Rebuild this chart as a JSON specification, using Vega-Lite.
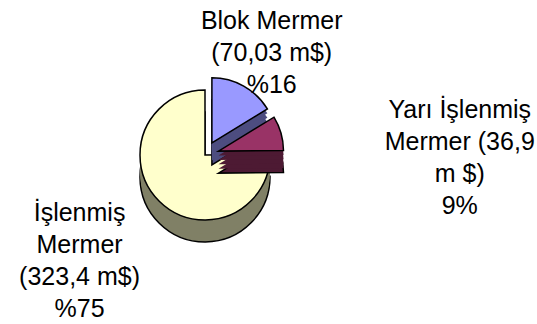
{
  "$schema": "https://vega.github.io/schema/vega-lite/v6.json",
  "width": 537,
  "height": 324,
  "autosize": {"type": "none"},
  "padding": 0,
  "background": "white",
  "config": {"view": {"stroke": null}},
  "data": {"values": [
    {"kategori": "Blok Mermer", "deger": 70.03, "etiket": "Blok Mermer\n(70,03 m$)\n%16"},
    {"kategori": "Yarı İşlenmiş Mermer", "deger": 36.9, "etiket": "Yarı İşlenmiş\nMermer (36,9\nm $)\n9%"},
    {"kategori": "İşlenmiş Mermer", "deger": 323.4, "etiket": "İşlenmiş\nMermer\n(323,4 m$)\n%75"}
  ]},
  "encoding": {
    "theta": {"field": "deger", "type": "quantitative", "stack": true},
    "order": {"field": "kategori", "sort": "ascending"}
  },
  "layer": [
    {"mark": {"type": "arc", "radius": 65, "xOffset": -63.5, "yOffset": 15, "fill": "#808066", "stroke": "black", "strokeWidth": 1.5},
     "encoding": {"opacity": {"condition": {"test": "datum.kategori === 'İşlenmiş Mermer'", "value": 1}, "value": 0}}},
    {"mark": {"type": "arc", "radius": 65, "xOffset": -63.5, "yOffset": 10.6, "fill": "#808066"},
     "encoding": {"opacity": {"condition": {"test": "datum.kategori === 'İşlenmiş Mermer'", "value": 1}, "value": 0}}},
    {"mark": {"type": "arc", "radius": 65, "xOffset": -63.5, "yOffset": 6.2, "fill": "#808066"},
     "encoding": {"opacity": {"condition": {"test": "datum.kategori === 'İşlenmiş Mermer'", "value": 1}, "value": 0}}},
    {"mark": {"type": "arc", "radius": 65, "xOffset": -63.5, "yOffset": 1.8, "fill": "#808066"},
     "encoding": {"opacity": {"condition": {"test": "datum.kategori === 'İşlenmiş Mermer'", "value": 1}, "value": 0}}},
    {"mark": {"type": "arc", "radius": 65, "xOffset": -63.5, "yOffset": -2.6, "fill": "#808066"},
     "encoding": {"opacity": {"condition": {"test": "datum.kategori === 'İşlenmiş Mermer'", "value": 1}, "value": 0}}},
    {"mark": {"type": "arc", "radius": 65, "xOffset": -63.5, "yOffset": -7, "fill": "#FFFFCC", "stroke": "black", "strokeWidth": 1.5},
     "encoding": {"opacity": {"condition": {"test": "datum.kategori === 'İşlenmiş Mermer'", "value": 1}, "value": 0}}},

    {"mark": {"type": "arc", "radius": 65, "xOffset": -56.6, "yOffset": 2.8, "fill": "#4d4d80", "stroke": "black", "strokeWidth": 1.5},
     "encoding": {"opacity": {"condition": {"test": "datum.kategori === 'Blok Mermer'", "value": 1}, "value": 0}}},
    {"mark": {"type": "arc", "radius": 65, "xOffset": -56.6, "yOffset": -1.6, "fill": "#4d4d80"},
     "encoding": {"opacity": {"condition": {"test": "datum.kategori === 'Blok Mermer'", "value": 1}, "value": 0}}},
    {"mark": {"type": "arc", "radius": 65, "xOffset": -56.6, "yOffset": -6, "fill": "#4d4d80"},
     "encoding": {"opacity": {"condition": {"test": "datum.kategori === 'Blok Mermer'", "value": 1}, "value": 0}}},
    {"mark": {"type": "arc", "radius": 65, "xOffset": -56.6, "yOffset": -10.4, "fill": "#4d4d80"},
     "encoding": {"opacity": {"condition": {"test": "datum.kategori === 'Blok Mermer'", "value": 1}, "value": 0}}},
    {"mark": {"type": "arc", "radius": 65, "xOffset": -56.6, "yOffset": -14.8, "fill": "#4d4d80"},
     "encoding": {"opacity": {"condition": {"test": "datum.kategori === 'Blok Mermer'", "value": 1}, "value": 0}}},
    {"mark": {"type": "arc", "radius": 65, "xOffset": -56.6, "yOffset": -19.2, "fill": "#9999FF", "stroke": "black", "strokeWidth": 1.5},
     "encoding": {"opacity": {"condition": {"test": "datum.kategori === 'Blok Mermer'", "value": 1}, "value": 0}}},

    {"mark": {"type": "arc", "radius": 65, "xOffset": -50, "yOffset": 11.1, "fill": "#4d1a33", "stroke": "black", "strokeWidth": 1.5},
     "encoding": {"opacity": {"condition": {"test": "datum.kategori === 'Yarı İşlenmiş Mermer'", "value": 1}, "value": 0}}},
    {"mark": {"type": "arc", "radius": 65, "xOffset": -50, "yOffset": 6.7, "fill": "#4d1a33"},
     "encoding": {"opacity": {"condition": {"test": "datum.kategori === 'Yarı İşlenmiş Mermer'", "value": 1}, "value": 0}}},
    {"mark": {"type": "arc", "radius": 65, "xOffset": -50, "yOffset": 2.3, "fill": "#4d1a33"},
     "encoding": {"opacity": {"condition": {"test": "datum.kategori === 'Yarı İşlenmiş Mermer'", "value": 1}, "value": 0}}},
    {"mark": {"type": "arc", "radius": 65, "xOffset": -50, "yOffset": -2.1, "fill": "#4d1a33"},
     "encoding": {"opacity": {"condition": {"test": "datum.kategori === 'Yarı İşlenmiş Mermer'", "value": 1}, "value": 0}}},
    {"mark": {"type": "arc", "radius": 65, "xOffset": -50, "yOffset": -6.5, "fill": "#4d1a33"},
     "encoding": {"opacity": {"condition": {"test": "datum.kategori === 'Yarı İşlenmiş Mermer'", "value": 1}, "value": 0}}},
    {"mark": {"type": "arc", "radius": 65, "xOffset": -50, "yOffset": -10.9, "fill": "#993366", "stroke": "black", "strokeWidth": 1.5},
     "encoding": {"opacity": {"condition": {"test": "datum.kategori === 'Yarı İşlenmiş Mermer'", "value": 1}, "value": 0}}},

    {"mark": {"type": "text", "radius": 118, "xOffset": -63.5, "yOffset": -7, "dx": 9, "dy": -31, "font": "Liberation Sans", "fontSize": 25, "lineHeight": 32, "lineBreak": "\n", "align": "center", "baseline": "middle", "color": "black"},
     "encoding": {"text": {"field": "etiket"}, "opacity": {"condition": {"test": "datum.kategori === 'Blok Mermer'", "value": 1}, "value": 0}}},
    {"mark": {"type": "text", "radius": 265, "xOffset": -63.5, "yOffset": -7, "dy": 28, "font": "Liberation Sans", "fontSize": 25, "lineHeight": 32, "lineBreak": "\n", "align": "center", "baseline": "middle", "color": "black"},
     "encoding": {"text": {"field": "etiket"}, "opacity": {"condition": {"test": "datum.kategori === 'Yarı İşlenmiş Mermer'", "value": 1}, "value": 0}}},
    {"mark": {"type": "text", "radius": 120, "xOffset": -63.5, "yOffset": -7, "dx": -41, "dy": -27, "font": "Liberation Sans", "fontSize": 25, "lineHeight": 32, "lineBreak": "\n", "align": "center", "baseline": "middle", "color": "black"},
     "encoding": {"text": {"field": "etiket"}, "opacity": {"condition": {"test": "datum.kategori === 'İşlenmiş Mermer'", "value": 1}, "value": 0}}}
  ]
}
